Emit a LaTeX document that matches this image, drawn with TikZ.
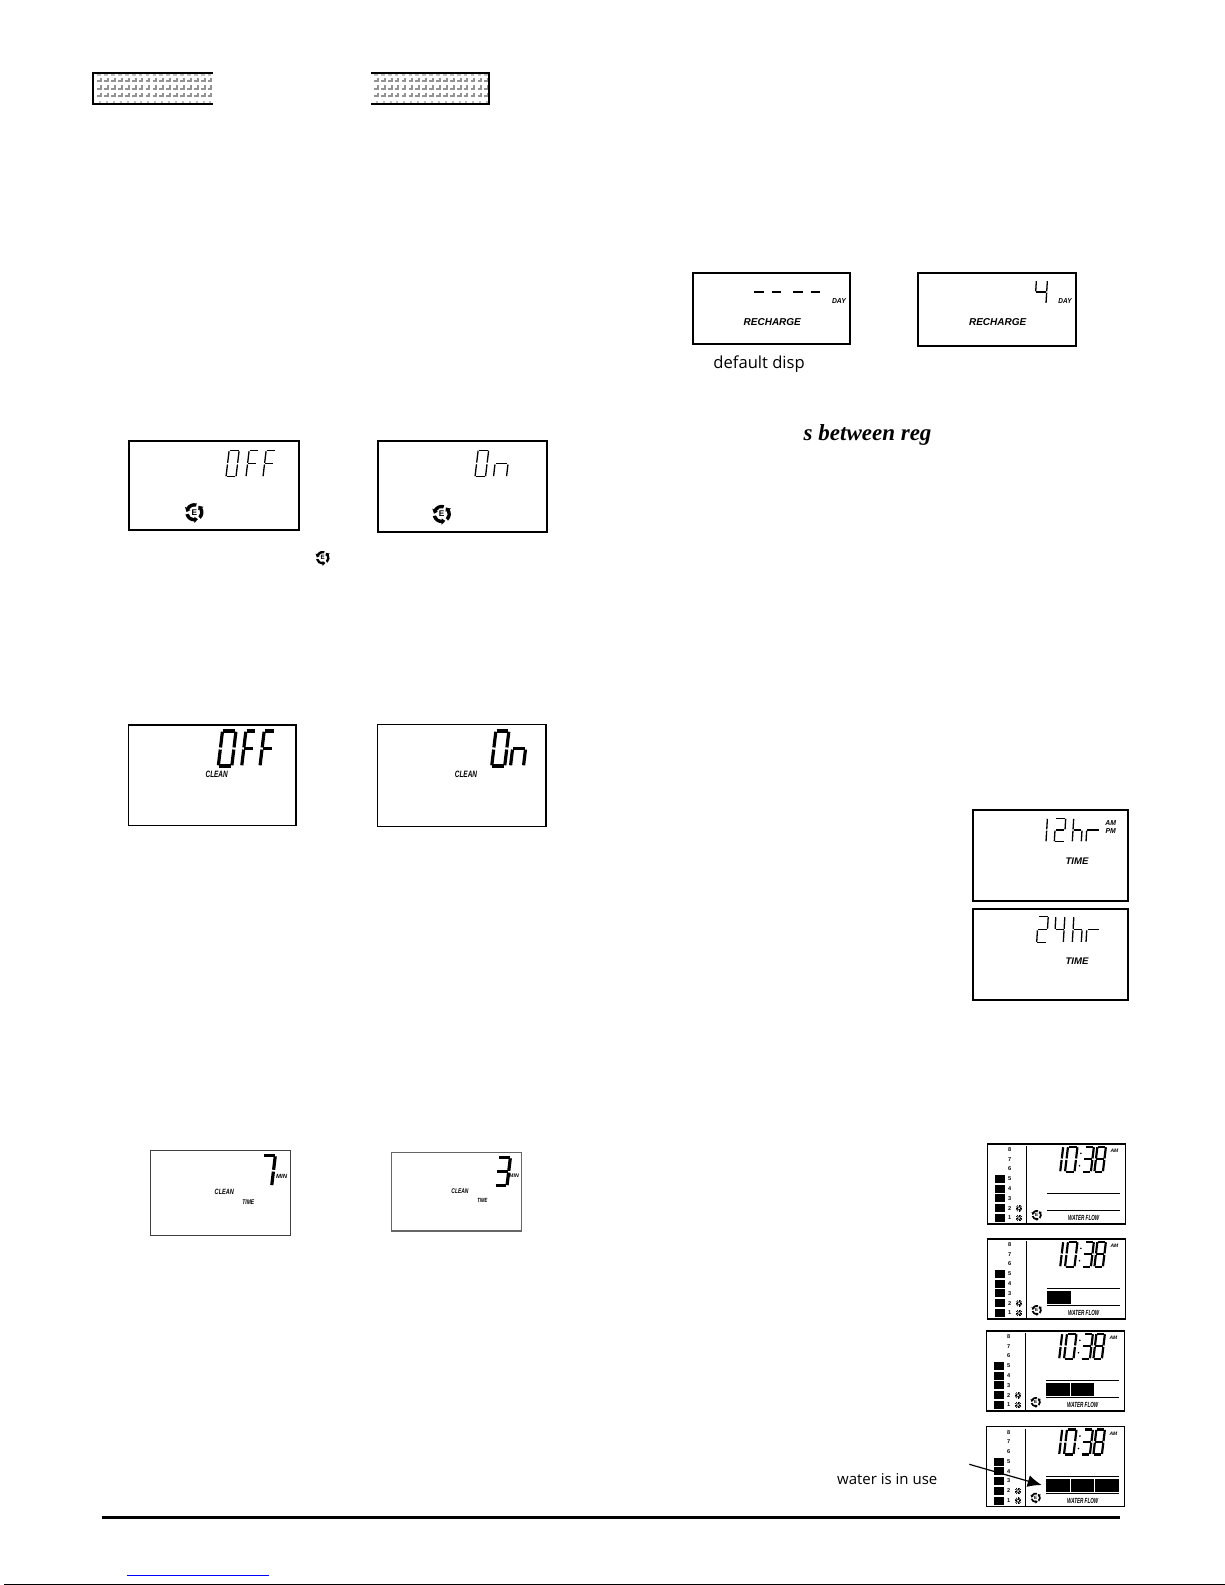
\documentclass[tikz,border=0pt]{standalone}
\usepackage{fontspec}
\setmainfont{Liberation Sans}
\newfontfamily\bodyfont{Open Sans}
\newfontfamily\headfont{Liberation Serif}
\usetikzlibrary{arrows.meta}
\tikzset{
	sega/.pic = {\draw (0.06, 2) -- (0.94, 2);},
	segb/.pic = {\draw (1, 1.96) -- (1, 1.06);},
	segc/.pic = {\draw (1, 0.94) -- (1, 0.04);},
	segd/.pic = {\draw (0.06, 0) -- (0.94, 0);},
	sege/.pic = {\draw (0, 0.94) -- (0, 0.04);},
	segf/.pic = {\draw (0, 1.96) -- (0, 1.06);},
	segg/.pic = {\draw (0.06, 1) -- (0.94, 1);},
	lcdthin/.style = {line width=0.65pt, xslant=0.12},
	lcdflat/.style = {line width=0.65pt, xslant=0.06},
	lcdmid/.style = {line width=1.1pt, xslant=0.12},
	lcdbold/.style = {line width=1.6pt, xslant=0.12},
	lcdlabel/.style 2 args = {font=\fontsize{#1}{#1}\selectfont\bfseries\itshape, transform shape, xscale=#2, inner sep=0pt},
	lcdnum/.style = {font=\fontsize{2.8}{2.8}\selectfont\bfseries, inner sep=0pt},
	display/.style = {line width=1pt},
	scanbox/.style = {line width=0.55pt},
	bodytext/.style = {font=\bodyfont\fontsize{#1}{10}\selectfont, anchor=base west, inner sep=0pt},
	ecomark/.pic = {
		\foreach \a in {150,270,30}
		{
			\fill (-\a+76:10.2) arc (-\a+76:-\a:10.2) -- (-\a:12) -- (-\a-28:8.6) -- (-\a:5) -- (-\a:6.6) arc (-\a:-\a+76:6.6) -- cycle;
		}
		\node[transform shape, font=\fontsize{4.6}{4.6}\selectfont\bfseries, inner sep=0pt] (letter) at (0, 0) {E};
	},
	sunmark/.pic = {
		\foreach \a in {0,30,...,330}
		{
			\draw[line width=0.3pt] (\a:1) -- (\a:3.4);
		}
	},
	flowpanel/.pic = {
		\draw[scanbox] (0, 0) rectangle (138, 80);
		\draw[line width=0.6pt] (39, 2) -- (39, 80);
		\foreach \n/\ny in {8/6,7/15.3,6/25,5/35,4/44.7,3/54.3,2/64.3,1/74}
		{
			\node[lcdnum] (num\n) at (22, \ny) {\n};
		}
		\foreach \ny in {35,44.7,54.3,64.3,74}
		{
			\fill (7.3, \ny-4) rectangle (17.3, \ny+4);
		}
		\pic at (31.3, 64.3) {sunmark};
		\pic at (31.3, 74) {sunmark};
		\pic[transform shape, scale=0.5] at (49, 71) {ecomark};
		\lcddigit[lcdmid](63.5,27.7)(9:25){b,c}
		\lcddigit[lcdmid](77.3,27.7)(9.5:25){a,b,c,d,e,f}
		\fill (93.2, 9.3) circle (0.9);
		\fill (91.8, 21.7) circle (0.9);
		\lcddigit[lcdmid](94.7,27.7)(8.5:25){a,b,c,d,g}
		\lcddigit[lcdmid](106.7,27.7)(8.5:25){a,b,c,d,e,f,g}
		\node[lcdlabel={2.5}{1}] (ampm) at (126.7, 6.7) {AM};
		\draw[line width=0.5pt] (59.5, 49.7) -- (132.3, 49.7);
		\draw[line width=0.5pt] (59.5, 66.5) -- (132.3, 66.5);
		\node[lcdlabel={3.7}{0.62}] (flowname) at (96, 74.3) {WATER FLOW};
	}
}
\def\lcddigit[#1](#2)(#3:#4)#5%
    { \begin{scope}[shift={(#2)}, x=#3*0.5pt, y=#4*0.25pt, #1]
		\foreach \s in {#5} {\pic[transform shape] {seg\s};}
	\end{scope} }

\begin{document}
\begin{tikzpicture}[x=0.5pt, y=-0.5pt]
	\useasboundingbox (0, 0) rectangle (1225, 1585);
	% banners
	\begin{scope}
		\clip (93.3, 72.7) rectangle (212.7, 104);
		\foreach \x in {101,107.9,...,214}
		{
			\draw[gray!50, line width=0.9pt] (\x-3.7, 74.9) -- (\x, 74.9);
			\draw[gray!50, line width=0.9pt] (\x-2, 102.3) -- (\x, 102.3);
			\foreach \y in {81.3,88.7,96.3}
			{
				\draw[gray!85, line width=1pt] (\x-3.7, \y) -- (\x, \y) -- (\x, \y-3.7);
			}
		}
	\end{scope}
	\begin{scope}
		\clip (371, 72.7) rectangle (489.3, 104);
		\foreach \x in {377.7,384.6,...,492}
		{
			\draw[gray!50, line width=0.9pt] (\x-3.7, 74.9) -- (\x, 74.9);
			\draw[gray!50, line width=0.9pt] (\x-2, 102.3) -- (\x, 102.3);
			\foreach \y in {81.3,88.7,96.3}
			{
				\draw[gray!85, line width=1pt] (\x-3.7, \y) -- (\x, \y) -- (\x, \y-3.7);
			}
		}
	\end{scope}
	\draw[display] (212.7, 72.7) -- (93.3, 72.7) -- (93.3, 104) -- (212.7, 104);
	\draw[display] (371, 72.7) -- (489.3, 72.7) -- (489.3, 104) -- (371, 104);
	% eco displays
	\draw[display] (129.3, 441) rectangle (299, 530);
	\lcddigit[lcdthin](226,476.7)(10:26){a,b,c,d,e,f}
	\lcddigit[lcdthin](246,476.7)(9:26){a,e,f,g}
	\lcddigit[lcdthin](263,476.7)(9.5:26){a,e,f,g}
	\pic[transform shape, scale=0.9] at (194.3, 512.3) {ecomark};
	\draw[display] (377.7, 441) rectangle (547.3, 532.3);
	\lcddigit[lcdthin](475,476.7)(10.5:26.5){a,b,c,d,e,f}
	\lcddigit[lcdthin](493.5,476.7)(13:26){c,e,g}
	\pic[transform shape, scale=0.9] at (441.7, 514) {ecomark};
	\pic[transform shape, scale=0.68] at (322.7, 557.7) {ecomark};
	% clean displays
	\draw[scanbox] (128.3, 725) rectangle (296, 825.7);
	\lcddigit[lcdbold](218.3,766)(13.5:35){a,b,c,d,e,f}
	\lcddigit[lcdbold](241.7,766)(10:35){a,e,f,g}
	\lcddigit[lcdbold](260,766)(10.5:35){a,e,f,g}
	\node[lcdlabel={4.6}{0.7}] (cleanoff) at (216.7, 774.3) {CLEAN};
	\draw[scanbox] (377.3, 724.3) rectangle (546, 826.3);
	\lcddigit[lcdbold](491.7,766)(13:35){a,b,c,d,e,f}
	\lcddigit[lcdbold](510.5,766)(13:35){c,e,g}
	\node[lcdlabel={4.6}{0.7}] (cleanon) at (466, 774.3) {CLEAN};
	% clean times
	\draw[scanbox, black!75] (150.7, 1150.7) rectangle (290.7, 1235.7);
	\lcddigit[lcdbold](259.7,1185.7)(12:30){a,b,c}
	\node[lcdlabel={3}{1}] (minseven) at (281.7, 1176) {MIN};
	\node[lcdlabel={3.8}{0.73}] (cleanseven) at (224.3, 1192.3) {CLEAN};
	\node[lcdlabel={3.4}{0.73}] (timeseven) at (248.3, 1202.3) {TIME};
	\draw[scanbox, black!60] (391.7, 1152.7) rectangle (521.7, 1231);
	\lcddigit[lcdbold](495,1185.7)(12:28){a,b,c,d,g}
	\node[lcdlabel={2.6}{1}] (minthree) at (514, 1175.7) {MIN};
	\node[lcdlabel={3.4}{0.73}] (cleanthree) at (460, 1190.7) {CLEAN};
	\node[lcdlabel={3}{0.7}] (timethree) at (482.3, 1200) {TIME};
	% recharge displays
	\draw[display] (693.3, 272.7) rectangle (850, 344);
	\foreach \dx in {753.5,771,792.5,810}
	{
		\lcddigit[line width=1pt](\dx,291.7)(11:0){g}
	}
	\node[lcdlabel={3.6}{0.95}] (dayblank) at (839, 301) {DAY};
	\node[lcdlabel={5}{1}] (rechargeblank) at (772.3, 321.7) {RECHARGE};
	\draw[display] (917.7, 272.7) rectangle (1075.7, 346);
	\lcddigit[lcdflat](1035,303.3)(11:22.6){b,c,f,g}
	\node[lcdlabel={3.6}{0.9}] (dayfour) at (1065, 301) {DAY};
	\node[lcdlabel={5}{1}] (rechargefour) at (997.7, 321.7) {RECHARGE};
	\node[bodytext=8.3] (defaultdisp) at (713, 368) {default disp};
	\node[font=\headfont\fontsize{11.5}{13}\selectfont\bfseries\itshape, anchor=base west, inner sep=0pt] (between) at (803.3, 440) {s between reg};
	% clock format displays
	\draw[display] (972.7, 810) rectangle (1128.3, 900.7);
	\lcddigit[lcdflat](1036,841.7)(10:23.4){b,c}
	\lcddigit[lcdflat](1054.3,841.7)(10:23.4){a,b,d,e,g}
	\lcddigit[lcdflat](1072.3,841.7)(9:23.4){c,e,f,g}
	\lcddigit[lcdflat](1086,841.7)(13:23.4){e,g}
	\node[lcdlabel={3.6}{0.95}] (ampmtop) at (1110.7, 823) {AM};
	\node[lcdlabel={3.6}{0.95}] (ampmbot) at (1110.7, 830.7) {PM};
	\node[lcdlabel={4.8}{1}] (timetwelve) at (1077, 860.7) {TIME};
	\draw[display] (972.7, 909.3) rectangle (1128.3, 1000);
	\lcddigit[lcdflat](1036.7,942.3)(10:25.6){a,b,d,e,g}
	\lcddigit[lcdflat](1054.3,942.3)(9:25.6){b,c,f,g}
	\lcddigit[lcdflat](1072.3,942.3)(9:25.6){c,e,f,g}
	\lcddigit[lcdflat](1086,942.3)(13:25.6){e,g}
	\node[lcdlabel={4.8}{1}] (timefour) at (1077, 960.7) {TIME};
	% water flow displays
	\foreach \i/\px/\py/\nbars in {1/987.7/1144/0,2/987.7/1239/1,3/986.7/1331/2,4/986.7/1426.7/3}
	{
		\pic (flow\i) at (\px, \py) {flowpanel};
		\foreach \b in {1,...,3}
		{
			\ifnum\b>\nbars\else
				\fill ({\px+59.5+24.3*(\b-1)}, \py+52) rectangle ({\px+59.5+24.3*\b-0.5}, \py+65);
			\fi
		}
	}
	\coordinate (usestart) at (969.3, 1464.3);
	\coordinate (usetip) at (1041.7, 1485);
	\draw[-{Latex[length=7pt,width=6pt]}, line width=0.6pt] (usestart) -- (usetip);
	\node[bodytext=7.5] (waterinuse) at (836.7, 1484.3) {water is in use};
	% page rules
	\draw[line width=1.5pt] (101.7, 1517.3) -- (1120, 1517.3);
	\draw[blue, line width=0.5pt] (127.3, 1575.7) -- (269, 1575.7);
	\draw[line width=0.5pt] (4, 1584.5) -- (1225, 1584.5);
\end{tikzpicture}
\end{document}
